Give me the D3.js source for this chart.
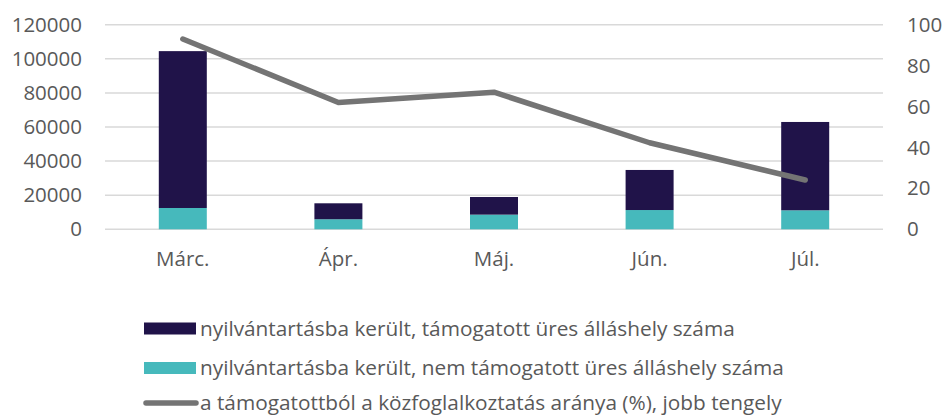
<!DOCTYPE html>
<html lang="hu">
<head>
<meta charset="utf-8">
<title>Üres álláshelyek</title>
<style>
    body { margin: 0; background: #fff; }
    svg text { font-family: "Open Sans", sans-serif; fill: #595959; }
    .grid line { stroke: #d9d9d9; stroke-width: 1.5; }
</style>
</head>
<body>
<svg id="chart" width="945" height="417"></svg>
<script src="https://cdn.jsdelivr.net/npm/d3@7"></script>
<script>
// adatok
var months = ['Márc.', 'Ápr.', 'Máj.', 'Jún.', 'Júl.'];
var nemTamogatott = [12500, 5900, 8600, 11300, 11150];
var tamogatott = [92000, 9350, 10350, 23500, 51800];
var kozfogArany = [93, 62, 67, 42.3, 24.1];
var leftTicks = [0, 20000, 40000, 60000, 80000, 100000, 120000];
var rightTicks = [0, 20, 40, 60, 80, 100];
var legendLabels = [
    'nyilvántartásba került, támogatott üres álláshely száma',
    'nyilvántartásba került, nem támogatott üres álláshely száma',
    'a támogatottból a közfoglalkoztatás aránya (%), jobb tengely'
];

var colDark = '#201349', colTeal = '#46b9bc', colLine = '#747474';

var svg = d3.select('#chart');
var plot = {left: 105, right: 883, top: 24.7, bottom: 229.3};

var x = d3.scaleBand().domain(months)
    .range([plot.left, plot.right])
    .paddingInner(0.6915).paddingOuter(0.6915 / 2);
var yL = d3.scaleLinear().domain([0, 120000]).range([plot.bottom, plot.top]);
var yR = d3.scaleLinear().domain([0, 100]).range([plot.bottom, plot.top]);

// rácsvonalak
svg.append('g').attr('class', 'grid')
    .selectAll('line').data(leftTicks).enter().append('line')
    .attr('x1', plot.left).attr('x2', plot.right)
    .attr('y1', function(d){ return yL(d); })
    .attr('y2', function(d){ return yL(d); });

// bal tengely
var axL = svg.append('g')
    .attr('transform', 'translate(' + (plot.left - 10) + ',0)')
    .call(d3.axisLeft(yL).tickValues(leftTicks).tickSize(0).tickPadding(13).tickFormat(d3.format('d')));
axL.select('.domain').remove();
axL.selectAll('text').attr('font-size', 20.5).attr('font-family', null).attr('fill', null);

// jobb tengely
var axR = svg.append('g')
    .attr('transform', 'translate(' + (plot.right + 10) + ',0)')
    .call(d3.axisRight(yR).tickValues(rightTicks).tickSize(0).tickPadding(14));
axR.select('.domain').remove();
axR.selectAll('text').attr('font-size', 20.5).attr('font-family', null).attr('fill', null);

// kategória tengely
var axX = svg.append('g')
    .attr('transform', 'translate(0,' + plot.bottom + ')')
    .call(d3.axisBottom(x).tickSize(0).tickPadding(22));
axX.select('.domain').remove();
axX.selectAll('text').attr('font-size', 20.5).attr('font-family', null).attr('fill', null);

// halmozott oszlopok
var rows = months.map(function(m, i){
    return {month: m, nem: nemTamogatott[i], tam: tamogatott[i]};
});
var stack = d3.stack().keys(['nem', 'tam'])(rows);
var colors = {nem: colTeal, tam: colDark};

svg.append('g').selectAll('g').data(stack).enter().append('g')
    .attr('fill', function(s){ return colors[s.key]; })
    .selectAll('rect').data(function(s){ return s; }).enter().append('rect')
    .attr('x', function(d){ return x(d.data.month); })
    .attr('width', x.bandwidth())
    .attr('y', function(d){ return yL(d[1]); })
    .attr('height', function(d){ return yL(d[0]) - yL(d[1]); });

// vonal
var line = d3.line()
    .x(function(d, i){ return x(months[i]) + x.bandwidth() / 2; })
    .y(function(d){ return yR(d); });
svg.append('path').datum(kozfogArany)
    .attr('d', line)
    .attr('fill', 'none')
    .attr('stroke', colLine)
    .attr('stroke-width', 5.5)
    .attr('stroke-linecap', 'round')
    .attr('stroke-linejoin', 'round');

// jelmagyarázat
var legY = [328.5, 368, 403];
var leg = svg.append('g');
leg.append('rect').attr('x', 144).attr('y', legY[0] - 6).attr('width', 52).attr('height', 12).attr('fill', colDark);
leg.append('rect').attr('x', 144).attr('y', legY[1] - 6).attr('width', 52).attr('height', 12).attr('fill', colTeal);
leg.append('line').attr('x1', 146).attr('x2', 196).attr('y1', legY[2]).attr('y2', legY[2])
    .attr('stroke', colLine).attr('stroke-width', 5.5).attr('stroke-linecap', 'round');
leg.selectAll('text').data(legendLabels).enter().append('text')
    .attr('x', 200)
    .attr('y', function(d, i){ return legY[i]; })
    .attr('dy', '0.35em')
    .attr('font-size', 20.8)
    .text(function(d){ return d; });
</script>
</body>
</html>
